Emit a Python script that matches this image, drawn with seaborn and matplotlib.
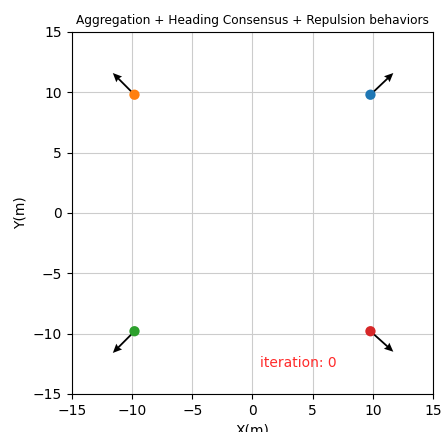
import matplotlib
matplotlib.use("Agg")
import matplotlib.pyplot as plt
import seaborn as sns
import pandas as pd

agents = ["a0", "a1", "a2", "a3"]
xs = [9.8, -9.8, -9.8, 9.8]
ys = [9.8, 9.8, -9.8, -9.8]
hx = [1.9, -1.8, -1.8, 1.9]
hy = [1.8, 1.8, -1.8, -1.7]
colors = ["#1f77b4", "#ff7f0e", "#2ca02c", "#d62728"]

df = pd.DataFrame({"agent": agents, "x": xs, "y": ys, "u": hx, "v": hy})

fig, ax = plt.subplots(figsize=(4.41, 4.32), dpi=100)
ax.quiver(df["x"], df["y"], df["u"], df["v"], angles="xy", scale_units="xy",
          scale=1, color="black", width=0.005, headwidth=4.5, headlength=5,
          headaxislength=4.5, zorder=2)
sns.scatterplot(data=df, x="x", y="y", hue="agent", palette=colors, s=55,
                edgecolor="none", legend=False, ax=ax, zorder=3)
ax.set_xlim(-15, 15)
ax.set_ylim(-15, 15)
ax.set_xlabel("X(m)")
ax.set_ylabel("Y(m)")
ax.set_title("Aggregation + Heading Consensus + Repulsion behaviors", fontsize=8.7)
ax.grid(True, color="#cccccc")
ax.set_axisbelow(True)
ax.text(0.6, -12.4, "iteration: 0", color="#ff2a2a", fontsize=10, va="center")
fig.subplots_adjust(left=0.163, right=0.982, top=0.926, bottom=0.088)
fig.savefig("out.png", dpi=100)
